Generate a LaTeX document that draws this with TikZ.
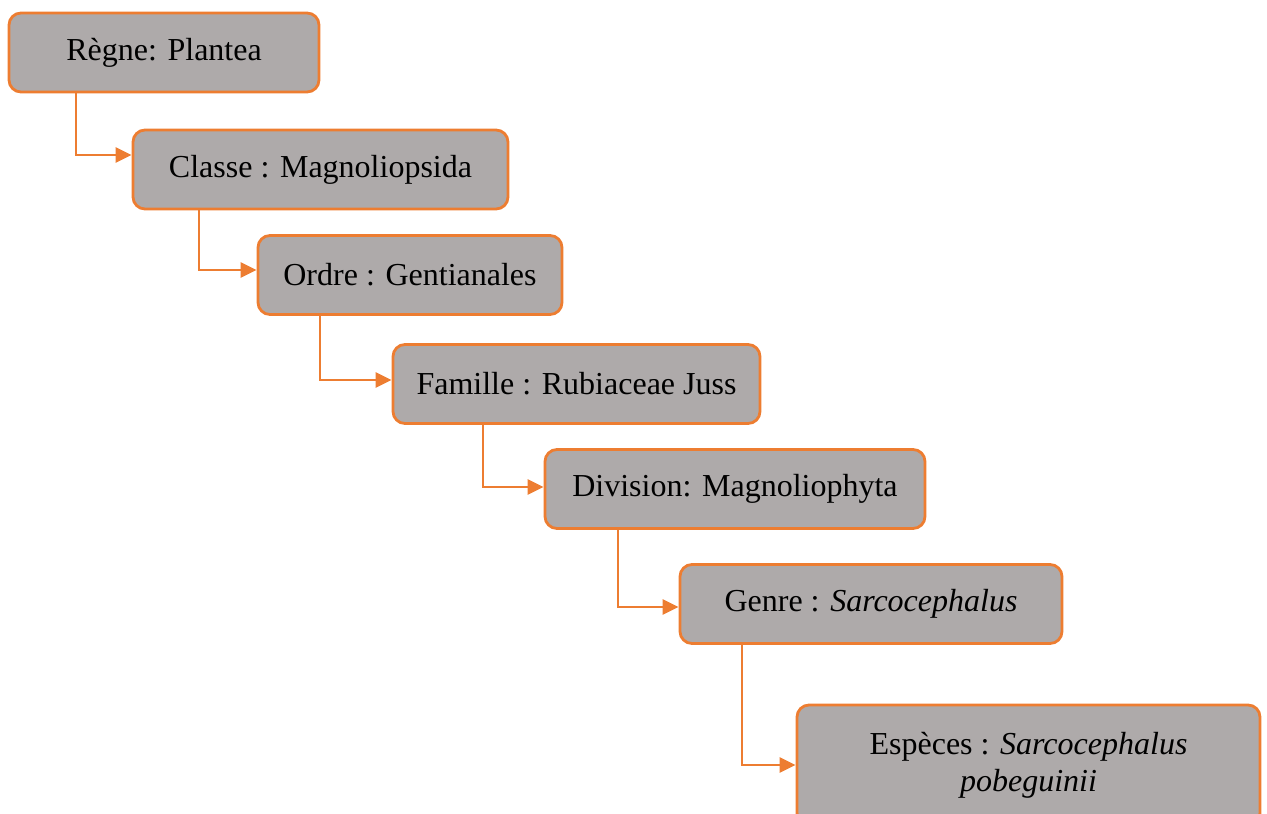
\documentclass[tikz,border=0pt]{standalone}
\usepackage{fontspec}
\setmainfont{Liberation Serif}
\usetikzlibrary{arrows.meta}
\definecolor{boxfill}{RGB}{174,170,170}
\definecolor{boxline}{RGB}{237,125,49}
\tikzset{every picture/.style={line width=1.4pt}}
\tikzset{
  taxon/.style={draw=boxline, fill=boxfill, rounded corners=6pt, inner sep=0pt,
    minimum height=39.5pt, align=center, font=\fontsize{16}{18.5}\selectfont},
  link/.style={draw=boxline, -{Triangle[length=8pt,width=7.5pt]}}
}

\begin{document}
\begin{tikzpicture}[x=0.5pt,y=0.5pt,yscale=-1,xscale=1]
\useasboundingbox (0,0) rectangle (1267,813);

% taxon boxes
\node [taxon, minimum width=155pt] (regne) at (164,52.5) {Règne: Plantea};
\node [taxon, minimum width=187.5pt] (classe) at (320.5,169.5) {Classe : Magnoliopsida};
\node [taxon, minimum width=152pt] (ordre) at (410,275) {Ordre : Gentianales};
\node [taxon, minimum width=183.5pt] (famille) at (576.5,384) {Famille : Rubiaceae Juss};
\node [taxon, minimum width=190pt] (division) at (735,489) {Division: Magnoliophyta};
\node [taxon, minimum width=191pt] (genre) at (871,604) {Genre : \textit{Sarcocephalus}};
\node [taxon, minimum width=231.5pt, minimum height=60pt] (especes) at (1028.5,765) {Espèces : \textit{Sarcocephalus}\\\textit{pobeguinii}};

% elbow connectors
\draw [link] (76,0 |- regne.south) |- (classe.west |- 0,155);
\draw [link] (199,0 |- classe.south) |- (ordre.west |- 0,270);
\draw [link] (320,0 |- ordre.south) |- (famille.west |- 0,380);
\draw [link] (483,0 |- famille.south) |- (division.west |- 0,487);
\draw [link] (618,0 |- division.south) |- (genre.west |- 0,607);
\draw [link] (742,0 |- genre.south) |- (especes.west);

\end{tikzpicture}
\end{document}
